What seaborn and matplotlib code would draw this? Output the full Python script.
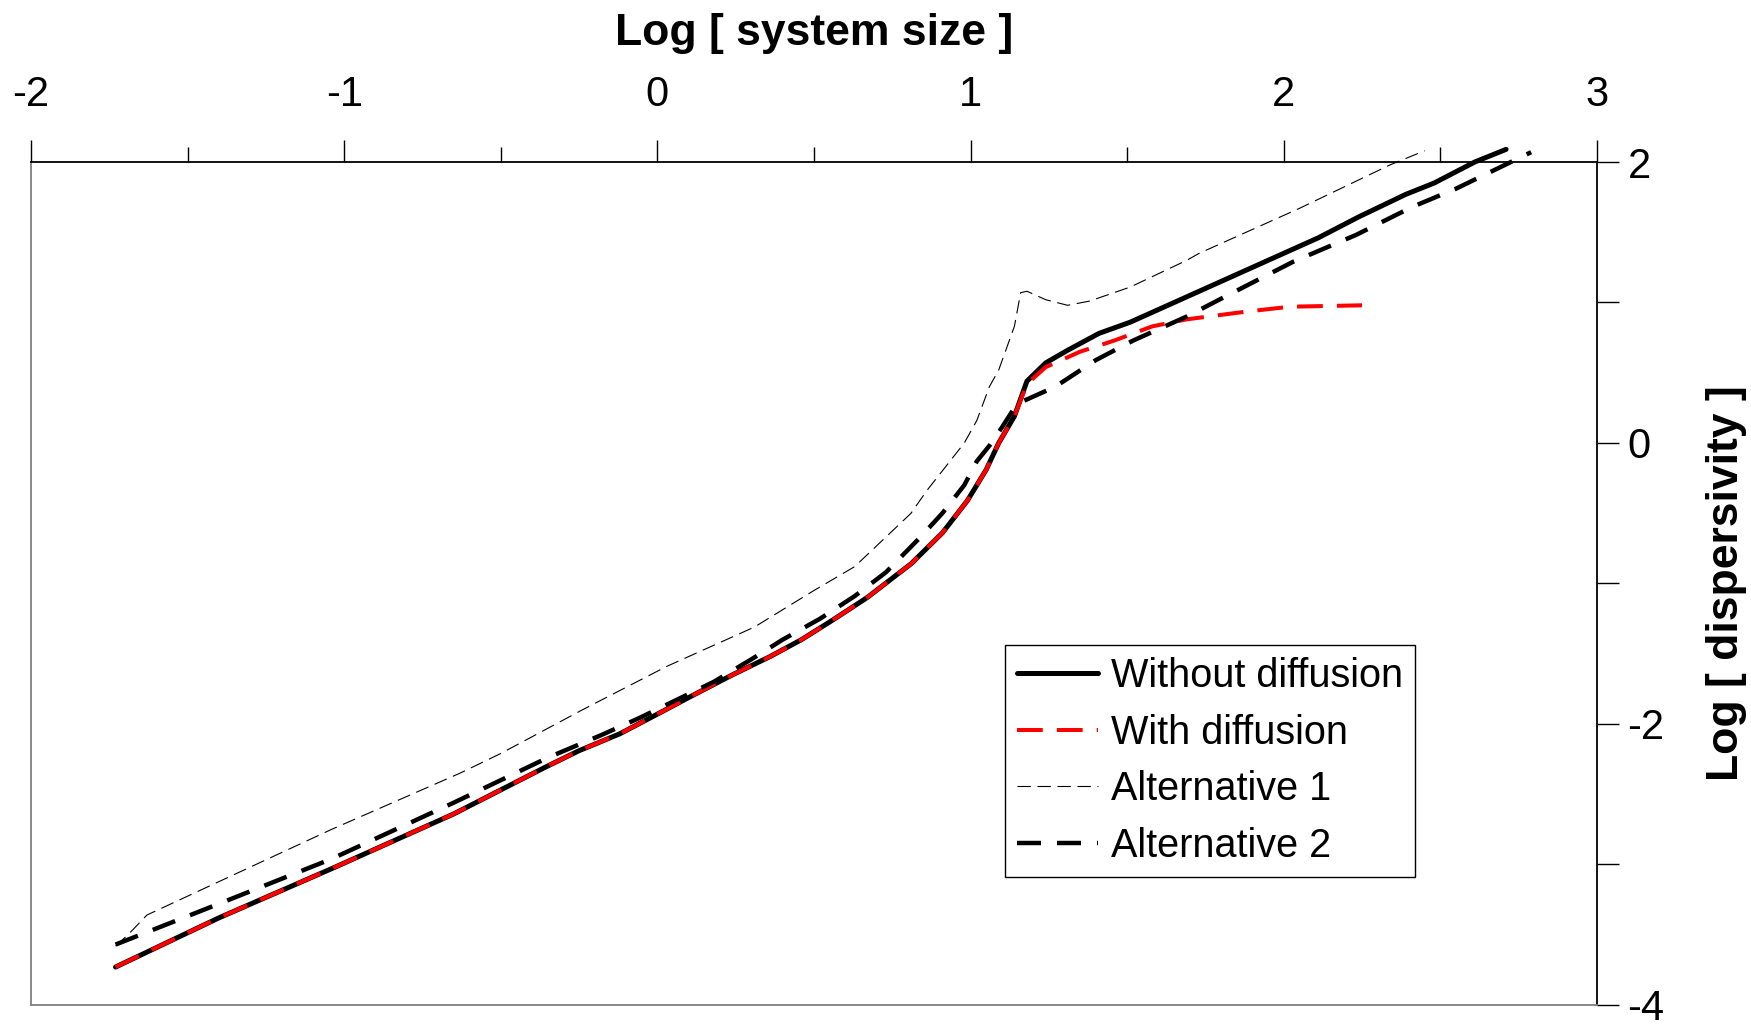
import matplotlib
matplotlib.use("Agg")
import matplotlib.pyplot as plt
import seaborn as sns

# Valores (log tamanho do sistema x log dispersividade)
x_sem = [-1.73, -1.40, -1.03, -0.65, -0.36, -0.25, -0.12, 0.00, 0.11, 0.24, 0.36, 0.46, 0.56, 0.67, 0.81,
         0.91, 0.99, 1.05, 1.09, 1.14, 1.18, 1.24, 1.31, 1.41, 1.51, 1.72, 1.82, 1.95, 2.11, 2.24, 2.39,
         2.48, 2.61, 2.71]
y_sem = [-3.73, -3.38, -3.02, -2.64, -2.31, -2.19, -2.07, -1.93, -1.80, -1.65, -1.52, -1.40, -1.26, -1.10, -0.86,
         -0.64, -0.41, -0.19, 0.00, 0.19, 0.44, 0.57, 0.66, 0.78, 0.86, 1.07, 1.17, 1.30, 1.46, 1.61, 1.77,
         1.85, 2.00, 2.09]

x_com = [-1.73, -1.40, -1.03, -0.65, -0.36, -0.25, -0.12, 0.00, 0.11, 0.24, 0.36, 0.46, 0.56, 0.67, 0.81,
         0.91, 0.99, 1.05, 1.09, 1.14, 1.18, 1.24, 1.29, 1.35, 1.46, 1.58, 1.69, 1.88, 2.02, 2.25]
y_com = [-3.73, -3.38, -3.02, -2.64, -2.31, -2.19, -2.07, -1.93, -1.80, -1.65, -1.52, -1.40, -1.26, -1.10, -0.86,
         -0.64, -0.41, -0.19, 0.00, 0.19, 0.42, 0.54, 0.59, 0.65, 0.73, 0.83, 0.88, 0.935, 0.97, 0.98]

x_alt1 = [-1.73, -1.69, -1.63, -1.04, -0.63, -0.50, -0.24, 0.03, 0.31, 0.50, 0.63, 0.72, 0.81, 0.86, 0.92,
          0.98, 1.02, 1.06, 1.09, 1.14, 1.16, 1.18, 1.24, 1.31, 1.38, 1.51, 1.69, 1.73, 2.05, 2.34, 2.45]
y_alt1 = [-3.58, -3.50, -3.36, -2.75, -2.35, -2.21, -1.90, -1.59, -1.31, -1.05, -0.88, -0.69, -0.50, -0.34, -0.17,
          0.00, 0.16, 0.40, 0.52, 0.83, 1.07, 1.08, 1.02, 0.98, 1.01, 1.11, 1.30, 1.35, 1.67, 1.98, 2.08]

x_alt2 = [-1.73, -1.40, -1.04, -0.65, -0.35, -0.18, -0.06, 0.06, 0.18, 0.30, 0.40, 0.52, 0.63, 0.73, 0.84,
          0.91, 0.98, 1.02, 1.06, 1.10, 1.14, 1.17, 1.27, 1.40, 1.52, 1.69, 1.82, 2.03, 2.23, 2.41, 2.55,
          2.67, 2.79]
y_alt2 = [-3.57, -3.28, -2.96, -2.56, -2.24, -2.08, -1.96, -1.83, -1.70, -1.54, -1.40, -1.25, -1.09, -0.92, -0.67,
          -0.50, -0.30, -0.13, -0.02, 0.11, 0.25, 0.30, 0.40, 0.59, 0.73, 0.90, 1.05, 1.29, 1.48, 1.68, 1.81,
          1.94, 2.07]

xticks = [-2, -1, 0, 1, 2, 3]
xticks_menores = [-1.5, -0.5, 0.5, 1.5, 2.5]
yticks = [-4, -3, -2, -1, 0, 1, 2]
ytick_labels = ['-4', '', '-2', '', '0', '', '2']

sns.set_style('white')
plt.rcParams['font.family'] = ['Liberation Sans', 'DejaVu Sans']
plt.rcParams['text.color'] = 'black'
plt.rcParams['axes.labelcolor'] = 'black'
plt.rcParams['xtick.color'] = 'black'
plt.rcParams['ytick.color'] = 'black'

fig = plt.figure(figsize=(17.51, 10.26), dpi=100)
ax = fig.add_axes([0.0177, 0.0205, 0.8943, 0.8216])

# Curvas (as linhas passam um pouco acima do eixo superior, como no original)
sns.lineplot(x=x_sem, y=y_sem, ax=ax, color='black', linewidth=3.6,
             label='Without diffusion', sort=False, estimator=None, clip_on=False)
sns.lineplot(x=x_com, y=y_com, ax=ax, color='red', linewidth=2.9,
             linestyle=(0, (6.4, 3.5)), label='With diffusion', sort=False, estimator=None, clip_on=False)
sns.lineplot(x=x_alt1, y=y_alt1, ax=ax, color='black', linewidth=0.8,
             linestyle=(0, (12, 6)), label='Alternative 1', sort=False, estimator=None, clip_on=False)
sns.lineplot(x=x_alt2, y=y_alt2, ax=ax, color='black', linewidth=3.2,
             linestyle=(0, (5.4, 3.6)), label='Alternative 2', sort=False, estimator=None, clip_on=False)

ax.set_xlim(-2, 3)
ax.set_ylim(-4, 2)

# Eixo x em cima, eixo y à direita
ax.xaxis.tick_top()
ax.xaxis.set_label_position('top')
ax.yaxis.tick_right()
ax.yaxis.set_label_position('right')

ax.set_xticks(xticks)
ax.set_xticklabels([str(t) for t in xticks])
ax.set_xticks(xticks_menores, minor=True)
ax.set_yticks(yticks)
ax.set_yticklabels(ytick_labels)

ax.tick_params(axis='x', which='major', direction='out', length=16, width=1, labelsize=30, pad=17.5)
ax.tick_params(axis='x', which='minor', direction='out', length=11, width=1)
ax.tick_params(axis='y', which='major', direction='out', length=16, width=1, labelsize=30, pad=6)

ax.set_xlabel('Log [ system size ]', fontsize=32, fontweight='bold', labelpad=22)
ax.set_ylabel('Log [ dispersivity ]', fontsize=32, fontweight='bold', labelpad=30)

for lado in ['top', 'right']:
    ax.spines[lado].set_color('black')
    ax.spines[lado].set_linewidth(1.3)
for lado in ['left', 'bottom']:
    ax.spines[lado].set_color('#808080')
    ax.spines[lado].set_linewidth(1.3)

leg = ax.legend(loc='upper left', bbox_to_anchor=(0.622, 0.427), borderaxespad=0,
                fontsize=28.5, frameon=True, fancybox=False, framealpha=1,
                handlelength=2.05, handletextpad=0.33, labelspacing=0.47,
                borderpad=0.3)
leg.get_frame().set_edgecolor('black')
leg.get_frame().set_linewidth(1.0)

fig.savefig('out.png', dpi=100)
